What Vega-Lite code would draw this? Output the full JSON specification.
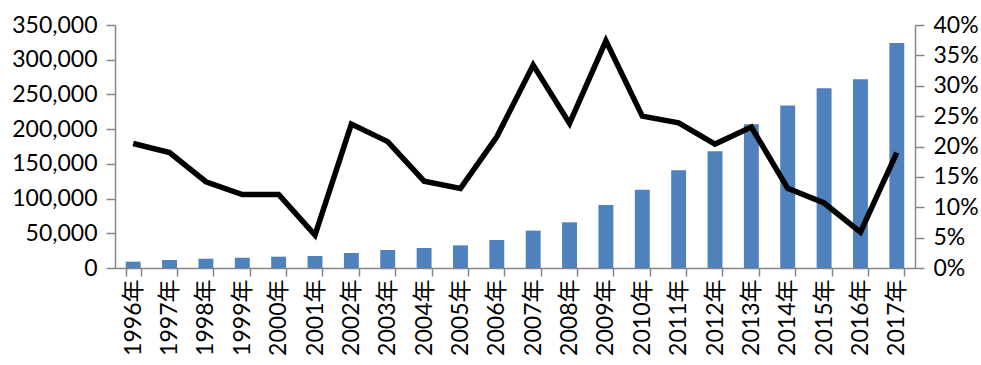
{
  "$schema": "https://vega.github.io/schema/vega-lite/v6.json",
  "width": 800,
  "height": 243,
  "autosize": {"type": "none"},
  "padding": {"left": 115, "top": 25, "right": 66, "bottom": 97},
  "background": "white",
  "config": {
    "view": {"stroke": null},
    "font": "Lato, Noto Sans CJK SC",
    "axis": {
      "labelFont": "Lato, Noto Sans CJK SC",
      "labelFontSize": 23,
      "labelColor": "#000000",
      "domainColor": "#868686",
      "tickColor": "#868686",
      "domainWidth": 1.5,
      "tickWidth": 1.5,
      "grid": false,
      "title": null
    }
  },
  "data": {
    "values": [
      {"year": "1996年", "amount": 9100, "growth": 0.205},
      {"year": "1997年", "amount": 11500, "growth": 0.190},
      {"year": "1998年", "amount": 13400, "growth": 0.142},
      {"year": "1999年", "amount": 14800, "growth": 0.121},
      {"year": "2000年", "amount": 16300, "growth": 0.121},
      {"year": "2001年", "amount": 17300, "growth": 0.054},
      {"year": "2002年", "amount": 21600, "growth": 0.237},
      {"year": "2003年", "amount": 25900, "growth": 0.208},
      {"year": "2004年", "amount": 28800, "growth": 0.143},
      {"year": "2005年", "amount": 32600, "growth": 0.131},
      {"year": "2006年", "amount": 40300, "growth": 0.216},
      {"year": "2007年", "amount": 53800, "growth": 0.334},
      {"year": "2008年", "amount": 65800, "growth": 0.238},
      {"year": "2009年", "amount": 90800, "growth": 0.374},
      {"year": "2010年", "amount": 112800, "growth": 0.250},
      {"year": "2011年", "amount": 140700, "growth": 0.239},
      {"year": "2012年", "amount": 168000, "growth": 0.204},
      {"year": "2013年", "amount": 207000, "growth": 0.232},
      {"year": "2014年", "amount": 233900, "growth": 0.131},
      {"year": "2015年", "amount": 258900, "growth": 0.107},
      {"year": "2016年", "amount": 272000, "growth": 0.059},
      {"year": "2017年", "amount": 324000, "growth": 0.190}
    ]
  },
  "encoding": {
    "x": {
      "field": "year",
      "type": "ordinal",
      "sort": null,
      "scale": {"paddingInner": 0.59, "paddingOuter": 0.295},
      "axis": {
        "labelAngle": -90,
        "tickBand": "extent",
        "tickSize": 8,
        "labelPadding": 3
      }
    }
  },
  "layer": [
    {
      "mark": {"type": "bar", "color": "#4F81BD"},
      "encoding": {
        "y": {
          "field": "amount",
          "type": "quantitative",
          "scale": {"domain": [0, 350000]},
          "axis": {
            "orient": "left",
            "values": [0, 50000, 100000, 150000, 200000, 250000, 300000, 350000],
            "format": ",.0f",
            "tickSize": 9,
            "labelPadding": 9
          }
        }
      }
    },
    {
      "mark": {"type": "line", "color": "#000000", "strokeWidth": 5.5},
      "encoding": {
        "y": {
          "field": "growth",
          "type": "quantitative",
          "scale": {"domain": [0, 0.4]},
          "axis": {
            "orient": "right",
            "values": [0, 0.05, 0.1, 0.15, 0.2, 0.25, 0.3, 0.35, 0.4],
            "format": ".0%",
            "tickSize": 9,
            "labelPadding": 9
          }
        }
      }
    }
  ],
  "resolve": {"scale": {"y": "independent"}}
}
